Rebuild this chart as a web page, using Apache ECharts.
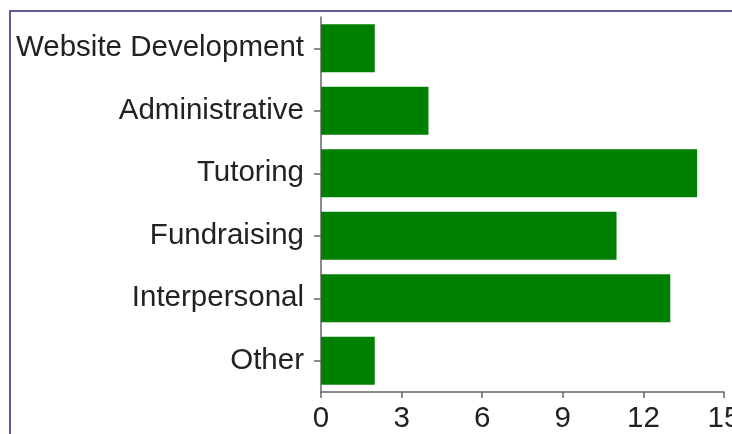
<!DOCTYPE html>
<html>
<head>
<meta charset="utf-8">
<script src="https://cdn.jsdelivr.net/npm/echarts@6/dist/echarts.min.js"></script>
<style>
  html, body { margin: 0; padding: 0; background: #fff; overflow: hidden; }
  #frame {
    position: absolute; left: 9px; top: 10px; width: 760px; height: 460px;
    border: 2px solid #5d5d93; box-sizing: border-box;
  }
  #chart { position: absolute; left: 0; top: 0; width: 732px; height: 434px; }
</style>
</head>
<body>
<div id="frame"></div>
<div id="chart"></div>
<script>
// data
const categories = ['Website Development', 'Administrative', 'Tutoring', 'Fundraising', 'Interpersonal', 'Other']
const counts = [2, 4, 14, 11, 13, 2]
const xTicks = [0, 3, 6, 9, 12, 15]

const myChart = echarts.init(document.getElementById('chart'))

const option = {
  animation: false,
  grid: {
    left: 321,
    right: 8,
    top: 17,
    bottom: 42,
    outerBoundsMode: 'none',
    containLabel: false
  },
  xAxis: {
    type: 'value',
    min: xTicks[0],
    max: xTicks[xTicks.length - 1],
    interval: 3,
    axisLine: { show: true, lineStyle: { color: '#666', width: 1.5 } },
    axisTick: { show: true, length: 6, lineStyle: { color: '#666', width: 1.5 } },
    axisLabel: {
      color: '#222',
      fontFamily: 'Liberation Sans, Arial, sans-serif',
      fontSize: 29.5,
      margin: 12,
      hideOverlap: false
    },
    splitLine: { show: false }
  },
  yAxis: {
    type: 'category',
    data: categories,
    inverse: true,
    axisLine: { show: true, lineStyle: { color: '#666', width: 1.5 } },
    axisTick: { show: true, alignWithLabel: true, length: 7, lineStyle: { color: '#666', width: 1.5 } },
    axisLabel: {
      color: '#222',
      fontFamily: 'Liberation Sans, Arial, sans-serif',
      fontSize: 29.5,
      margin: 17,
      padding: [4, 0, 0, 0]
    }
  },
  series: [
    {
      type: 'bar',
      data: counts,
      barCategoryGap: '23%',
      itemStyle: { color: '#008000' }
    }
  ]
}

myChart.setOption(option)
</script>
</body>
</html>
